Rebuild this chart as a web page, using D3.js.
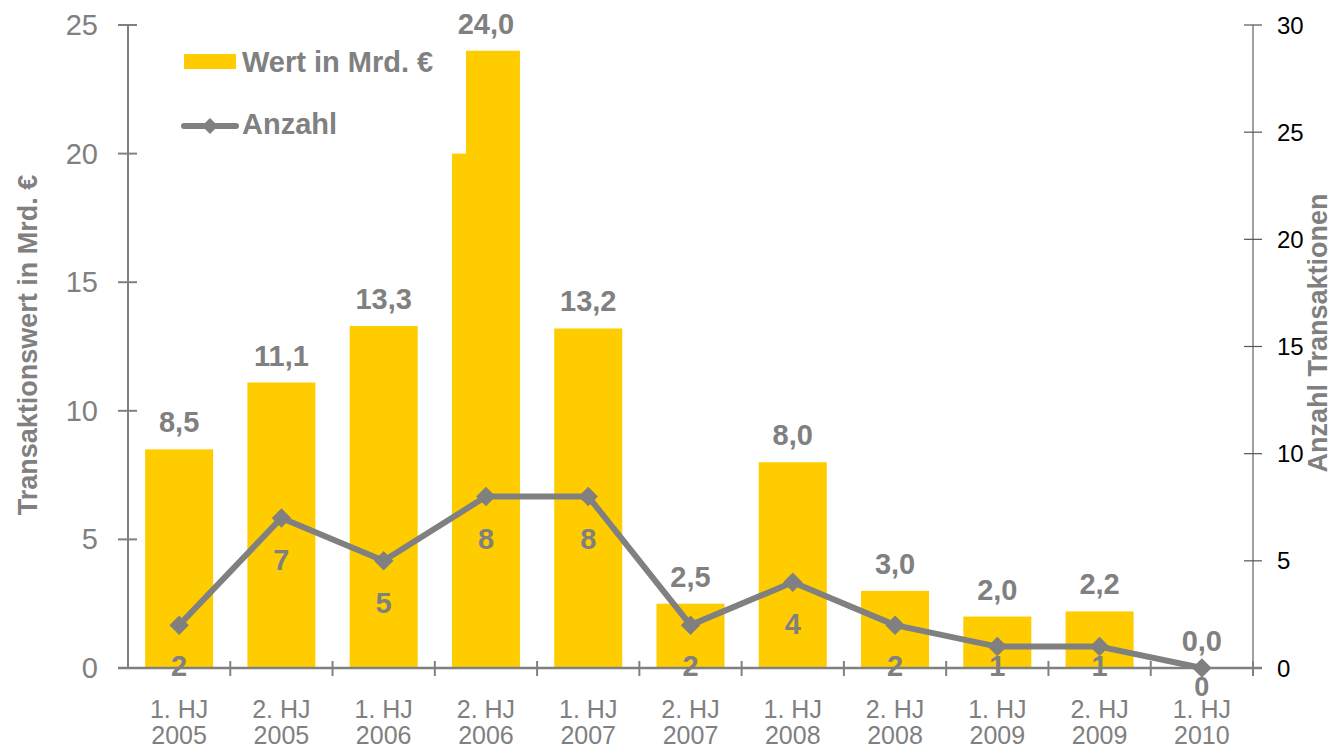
<!DOCTYPE html>
<html><head><meta charset="utf-8">
<script src="https://cdn.jsdelivr.net/npm/d3@7"></script>
<style>body{margin:0;background:#fff}svg{display:block}</style>
</head><body><svg id="c" width="1333" height="752"></svg>
<script>
const categories = ["1. HJ|2005","2. HJ|2005","1. HJ|2006","2. HJ|2006","1. HJ|2007","2. HJ|2007","1. HJ|2008","2. HJ|2008","1. HJ|2009","2. HJ|2009","1. HJ|2010"];
const werte = [8.5, 11.1, 13.3, 24.0, 13.2, 2.5, 8.0, 3.0, 2.0, 2.2, 0.0];
const anzahl = [2, 7, 5, 8, 8, 2, 4, 2, 1, 1, 0];
const leftTicks = [0,5,10,15,20,25];
const rightTicks = [0,5,10,15,20,25,30];

const svg = d3.select("#c");
const gray = "#808080", yellow = "#FFCC00";
const font = "'Liberation Sans', Arial, sans-serif";
const narrow = "'Liberation Sans Narrow', 'Liberation Sans', Arial, sans-serif";
const L = 128, R = 1253, T = 25, B = 668;
const x = d3.scaleBand().domain(categories).range([L, R]).paddingInner(0.335).paddingOuter(0.1675);
const xb = d3.scaleBand().domain(categories).range([L, R]);
const yL = d3.scaleLinear().domain([0,25]).range([B, T]);
const yR = d3.scaleLinear().domain([0,30]).range([B, T]);

// bars
svg.append("g").selectAll("rect").data(werte).join("rect")
  .attr("x",(d,i)=>x(categories[i])).attr("width",x.bandwidth())
  .attr("y",d=>yL(d)).attr("height",d=>B-yL(d)).attr("fill",yellow);

// legend background (white box clipping the tall bar)
svg.append("rect").attr("x",170).attr("y",T).attr("width",466-170).attr("height",yL(20)-T).attr("fill","#fff");

// value labels
svg.append("g").selectAll("text").data(werte).join("text")
  .attr("x",(d,i)=>xb(categories[i])+xb.bandwidth()/2).attr("y",d=>yL(d)-17)
  .attr("text-anchor","middle").attr("font-family",font).attr("font-weight","bold")
  .attr("font-size",29).attr("fill",gray).text(d=>d.toFixed(1).replace(".",","));

// left axis
const gl = svg.append("g");
gl.append("line").attr("x1",L).attr("x2",L).attr("y1",T).attr("y2",B).attr("stroke",gray).attr("stroke-width",2);
leftTicks.forEach(t=>{
  gl.append("line").attr("x1",L-10).attr("x2",L+9).attr("y1",yL(t)).attr("y2",yL(t)).attr("stroke",gray).attr("stroke-width",2);
  gl.append("text").attr("x",98).attr("y",yL(t)+10).attr("text-anchor","end").attr("font-family",font)
    .attr("font-size",29).attr("fill",gray).text(t);
});
// right axis
const gr = svg.append("g");
gr.append("line").attr("x1",R).attr("x2",R).attr("y1",T).attr("y2",B).attr("stroke",gray).attr("stroke-width",1.5);
rightTicks.forEach(t=>{
  gr.append("line").attr("x1",R-9).attr("x2",R+9).attr("y1",yR(t)).attr("y2",yR(t)).attr("stroke","#555").attr("stroke-width",1.2);
  gr.append("text").attr("x",R+24).attr("y",yR(t)+8.5).attr("text-anchor","start").attr("font-family",font)
    .attr("font-size",24).attr("fill","#000").text(t);
});
// x axis
const gx = svg.append("g");
gx.append("line").attr("x1",L-10).attr("x2",R+9).attr("y1",B).attr("y2",B).attr("stroke",gray).attr("stroke-width",2.5);
categories.forEach((c,i)=>{
  const xx = xb(c);
  if(i>0) gx.append("line").attr("x1",xx).attr("x2",xx).attr("y1",B-7).attr("y2",B+8).attr("stroke",gray).attr("stroke-width",2);
  const [a,b] = c.split("|");
  const cx = xx + xb.bandwidth()/2;
  gx.append("text").attr("x",cx).attr("y",718).attr("text-anchor","middle").attr("font-family",font).attr("font-size",25).attr("fill",gray).text(a);
  gx.append("text").attr("x",cx).attr("y",744).attr("text-anchor","middle").attr("font-family",font).attr("font-size",25).attr("fill",gray).text(b);
});
gx.append("line").attr("x1",R).attr("x2",R).attr("y1",B-7).attr("y2",B+8).attr("stroke",gray).attr("stroke-width",2);

// line
const cxf = i => xb(categories[i]) + xb.bandwidth()/2;
const line = d3.line().x((d,i)=>cxf(i)).y(d=>yR(d));
svg.append("path").datum(anzahl).attr("d",line).attr("fill","none").attr("stroke",gray).attr("stroke-width",6).attr("stroke-linejoin","round");
svg.append("g").selectAll("path").data(anzahl).join("path")
  .attr("transform",(d,i)=>`translate(${cxf(i)},${yR(d)}) rotate(45)`)
  .attr("d",d3.symbol().type(d3.symbolSquare).size(190)).attr("fill",gray);
// count labels (below points, kept inside plot except zero)
svg.append("g").selectAll("text").data(anzahl).join("text")
  .attr("x",(d,i)=>cxf(i)).attr("y",d=> d===0 ? yR(d)+28 : Math.min(yR(d)+52, B+8))
  .attr("text-anchor","middle").attr("font-family",font).attr("font-weight","bold")
  .attr("font-size",d=> d===0 ? 27 : 29).attr("fill",gray).text(d=>d);

// legend
svg.append("rect").attr("x",184).attr("y",54).attr("width",52).attr("height",15).attr("fill",yellow);
svg.append("text").attr("x",242).attr("y",72).attr("font-family",font).attr("font-weight","bold").attr("font-size",29).attr("fill",gray).text("Wert in Mrd. €");
svg.append("line").attr("x1",184).attr("x2",236).attr("y1",126).attr("y2",126).attr("stroke",gray).attr("stroke-width",6).attr("stroke-linecap","round");
svg.append("path").attr("transform","translate(210,126) rotate(45)").attr("d",d3.symbol().type(d3.symbolSquare).size(130)).attr("fill",gray);
svg.append("text").attr("x",242).attr("y",134).attr("font-family",font).attr("font-weight","bold").attr("font-size",29).attr("fill",gray).text("Anzahl");

// axis titles
svg.append("text").attr("transform","translate(37,345) rotate(-90)").attr("text-anchor","middle")
  .attr("font-family",narrow).attr("font-weight","bold").attr("font-size",27).attr("fill",gray).text("Transaktionswert in Mrd. €");
svg.append("text").attr("transform","translate(1327,333) rotate(-90)").attr("text-anchor","middle")
  .attr("font-family",narrow).attr("font-weight","bold").attr("font-size",27).attr("fill",gray).text("Anzahl Transaktionen");
</script></body></html>
